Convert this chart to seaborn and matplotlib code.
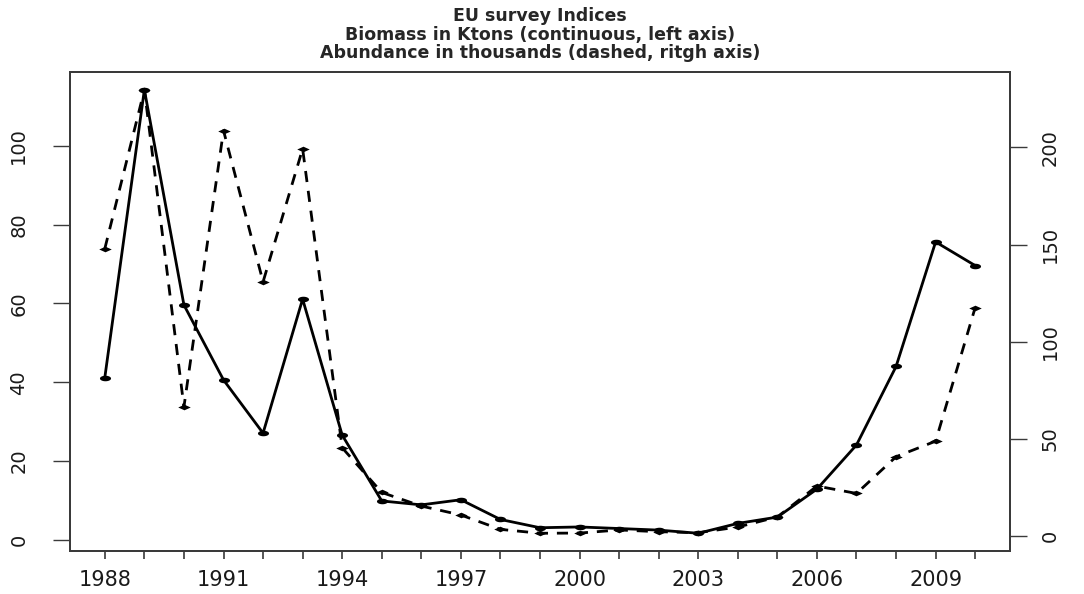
import numpy as np
import pandas as pd
import matplotlib
matplotlib.use("Agg")
import matplotlib.pyplot as plt
import seaborn as sns

# ---- data ----
years = list(range(1988, 2011))
biomass = [41.2, 114.2, 59.6, 40.6, 27.1, 61.1, 26.6, 9.9, 8.9, 10.2, 5.2, 3.1,
           3.3, 2.9, 2.5, 1.7, 4.2, 5.8, 12.9, 24.1, 44.0, 75.6, 69.6]
abundance = [147.9, 229.7, 66.5, 208.7, 130.8, 199.3, 45.4, 22.4, 15.4, 10.8, 3.4, 1.4,
             1.5, 3.1, 2.2, 1.7, 4.6, 9.8, 25.7, 21.9, 40.8, 48.8, 117.6]
left_ticks = [0, 20, 40, 60, 80, 100]
right_ticks = [0, 50, 100, 150, 200]
title_lines = ["EU survey Indices",
               "Biomass in Ktons (continuous, left axis)",
               "Abundance in thousands (dashed, ritgh axis)"]

df = pd.DataFrame({"year": years, "biomass": biomass, "abundance": abundance})

sns.set_style("white")
plt.rcParams["font.family"] = ["DejaVu Sans"]

fig = plt.figure(figsize=(10.84, 5.94), dpi=100)
ax = fig.add_axes([70 / 1084, 1 - 551 / 594, 940 / 1084, 479 / 594])
ax2 = ax.twinx()


def r_lim(v):
    lo, hi = min(v), max(v)
    d = (hi - lo) * 0.04
    return lo - d, hi + d


t = np.linspace(0, 2 * np.pi, 30)
ellipse = list(zip(np.cos(t), 0.5 * np.sin(t)))
diamond = [(1, 0), (0, 0.45), (-1, 0), (0, -0.45), (1, 0)]

sns.lineplot(data=df, x="year", y="biomass", ax=ax, color="black", lw=2.0,
             marker=ellipse, markersize=8, markeredgewidth=0, errorbar=None)
sns.lineplot(data=df, x="year", y="abundance", ax=ax2, color="black", lw=2.0,
             linestyle=(0, (4, 3.2)), marker=diamond, markersize=9,
             markeredgewidth=0, errorbar=None)

ax.set_xlim(*r_lim(years))
ax.set_ylim(*r_lim(biomass))
ax2.set_ylim(*r_lim(abundance))

ax.set_xticks(years)
ax.set_xticklabels([str(y) if (y - years[0]) % 3 == 0 else "" for y in years])
ax.set_yticks(left_ticks)
ax.set_yticklabels([str(v) for v in left_ticks], rotation=90, va="center")
ax2.set_yticks(right_ticks)
ax2.set_yticklabels([str(v) for v in right_ticks], rotation=90, va="center")

for a in (ax, ax2):
    a.set_xlabel("")
    a.set_ylabel("")
    for s in a.spines.values():
        s.set_visible(True)
        s.set_color("#3a3a3a")
        s.set_linewidth(1.4)

ax.tick_params(axis="x", direction="out", length=6, width=1.2, color="#3a3a3a",
               pad=8, labelsize=15, labelcolor="#1a1a1a", bottom=True)
ax.tick_params(axis="y", direction="out", length=12, width=1.0, color="#3a3a3a",
               pad=18, labelsize=14, labelcolor="#1a1a1a", left=True)
ax2.tick_params(axis="y", direction="out", length=12, width=1.0, color="#3a3a3a",
                pad=10, labelsize=14, labelcolor="#1a1a1a", right=True)

for txt, yp in zip(title_lines, [16, 35, 53]):
    fig.text(540 / 1084, 1 - yp / 594, txt, ha="center", va="center",
             fontsize=12.5, fontweight="bold")

fig.savefig("out.png", dpi=100)
